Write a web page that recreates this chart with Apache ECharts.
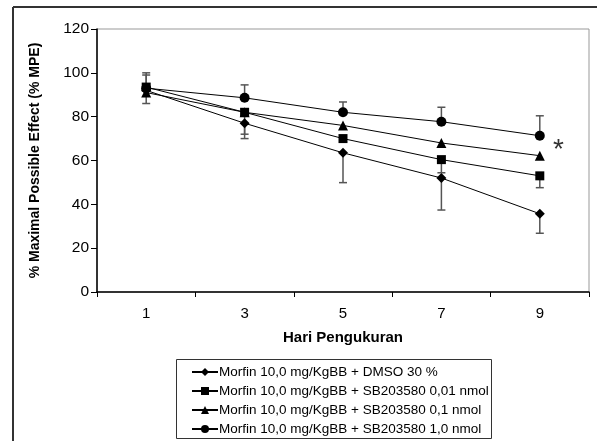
<!DOCTYPE html>
<html><head><meta charset="utf-8">
<script src="https://cdn.jsdelivr.net/npm/echarts@6/dist/echarts.min.js"></script>
<style>html,body{margin:0;padding:0;background:#fff}#c{width:597px;height:441px}</style>
</head><body><div id="c"></div>
<script>
const categories = ['1', '3', '5', '7', '9'];
const seriesNames = [
  'Morfin 10,0 mg/KgBB + DMSO 30 %',
  'Morfin 10,0 mg/KgBB + SB203580 0,01 nmol',
  'Morfin 10,0 mg/KgBB + SB203580 0,1 nmol',
  'Morfin 10,0 mg/KgBB + SB203580 1,0 nmol'
];
const dmso  = [92.0, 77.0, 63.5, 52.0, 35.7];
const sb001 = [93.5, 82.0, 70.0, 60.4, 53.0];
const sb01  = [91.0, 82.0, 76.0, 68.0, 62.2];
const sb10  = [93.0, 88.6, 82.0, 77.7, 71.3];
// error bar end values (null = no bar drawn)
const dmsoErrEnd  = [86.0, 72.0, 49.9, 37.4, 26.8];
const sb001ErrEnd = [99.0, 70.0, null, 54.4, 47.6];
const sb10ErrEnd  = [100.0, 94.5, 86.7, 84.3, 80.4];
const yTicks = [0, 20, 40, 60, 80, 100, 120];

const FONT = 'Liberation Sans, Arial, sans-serif';
const chart = echarts.init(document.getElementById('c'), null, {renderer: 'canvas'});

function errData(vals, ends) {
  const out = [];
  vals.forEach((v, i) => { if (ends[i] != null) out.push([i, v, ends[i]]); });
  return out;
}
const errItems = [].concat(errData(dmso, dmsoErrEnd), errData(sb001, sb001ErrEnd), errData(sb10, sb10ErrEnd));

const symbols = ['diamond', 'rect', 'triangle', 'circle'];
const symSizes = [10, 9, 10, 10];
const allData = [dmso, sb001, sb01, sb10];

const lineSeries = allData.map((d, k) => ({
  name: seriesNames[k], type: 'line', data: d,
  symbol: symbols[k], symbolSize: symSizes[k],
  lineStyle: {color: '#000', width: 1},
  itemStyle: {color: '#000'},
  z: 3, animation: false
}));

chart.setOption({
  animation: false,
  backgroundColor: '#fff',
  textStyle: {fontFamily: FONT},
  grid: {left: 97, right: 8, top: 29, bottom: 149, show: true, borderColor: '#999', borderWidth: 1},
  legend: {
    orient: 'vertical', left: 191, top: 365, itemWidth: 26, itemHeight: 10, itemGap: 5,
    padding: 0,
    textStyle: {fontFamily: FONT, fontSize: 13.5, color: '#000', padding: [0, 0, 0, -4]},
    data: seriesNames
  },
  xAxis: {
    type: 'category', data: categories, boundaryGap: true,
    name: 'Hari Pengukuran', nameLocation: 'middle', nameGap: 38,
    nameTextStyle: {fontFamily: FONT, fontSize: 15, fontWeight: 'bold', color: '#000'},
    axisLine: {lineStyle: {color: '#000', width: 1.5}},
    axisTick: {show: true, length: 5, lineStyle: {color: '#000'}},
    axisLabel: {fontFamily: FONT, fontSize: 15, color: '#000', margin: 14}
  },
  yAxis: {
    type: 'value', min: 0, max: 120, interval: 20,
    name: '% Maximal Possible Effect (% MPE)', nameLocation: 'middle', nameGap: 55,
    nameTextStyle: {fontFamily: FONT, fontSize: 14, fontWeight: 'bold', color: '#000'},
    axisLine: {show: true, lineStyle: {color: '#000', width: 1.5}},
    axisTick: {show: true, length: 6, lineStyle: {color: '#000'}},
    splitLine: {show: false},
    axisLabel: {fontFamily: FONT, fontSize: 15.5, color: '#000', margin: 8,
      formatter: v => yTicks.indexOf(v) >= 0 ? String(v) : ''}
  },
  series: [{
    type: 'custom', data: errItems, z: 2, silent: true,
    encode: {x: 0, y: [1, 2]},
    renderItem: function (params, api) {
      const p0 = api.coord([api.value(0), api.value(1)]);
      const p1 = api.coord([api.value(0), api.value(2)]);
      const w = 4;
      const st = {stroke: '#555', lineWidth: 1.5};
      return {type: 'group', children: [
        {type: 'line', shape: {x1: p0[0], y1: p0[1], x2: p1[0], y2: p1[1]}, style: st},
        {type: 'line', shape: {x1: p1[0] - w, y1: p1[1], x2: p1[0] + w, y2: p1[1]}, style: st}
      ]};
    }
  }].concat(lineSeries),
  graphic: [
    {type: 'line', shape: {x1: 13, y1: 7, x2: 13, y2: 441}, style: {stroke: '#333', lineWidth: 2}},
    {type: 'line', shape: {x1: 13, y1: 7, x2: 597, y2: 7}, style: {stroke: '#333', lineWidth: 2}},
    {type: 'rect', shape: {x: 176.5, y: 359.5, width: 315, height: 79}, style: {fill: 'none', stroke: '#333', lineWidth: 1}, z: -1},
    {type: 'text', left: 553, top: 136, style: {text: '*', fontFamily: FONT, fontSize: 28, fill: '#333'}}
  ]
});
</script></body></html>
